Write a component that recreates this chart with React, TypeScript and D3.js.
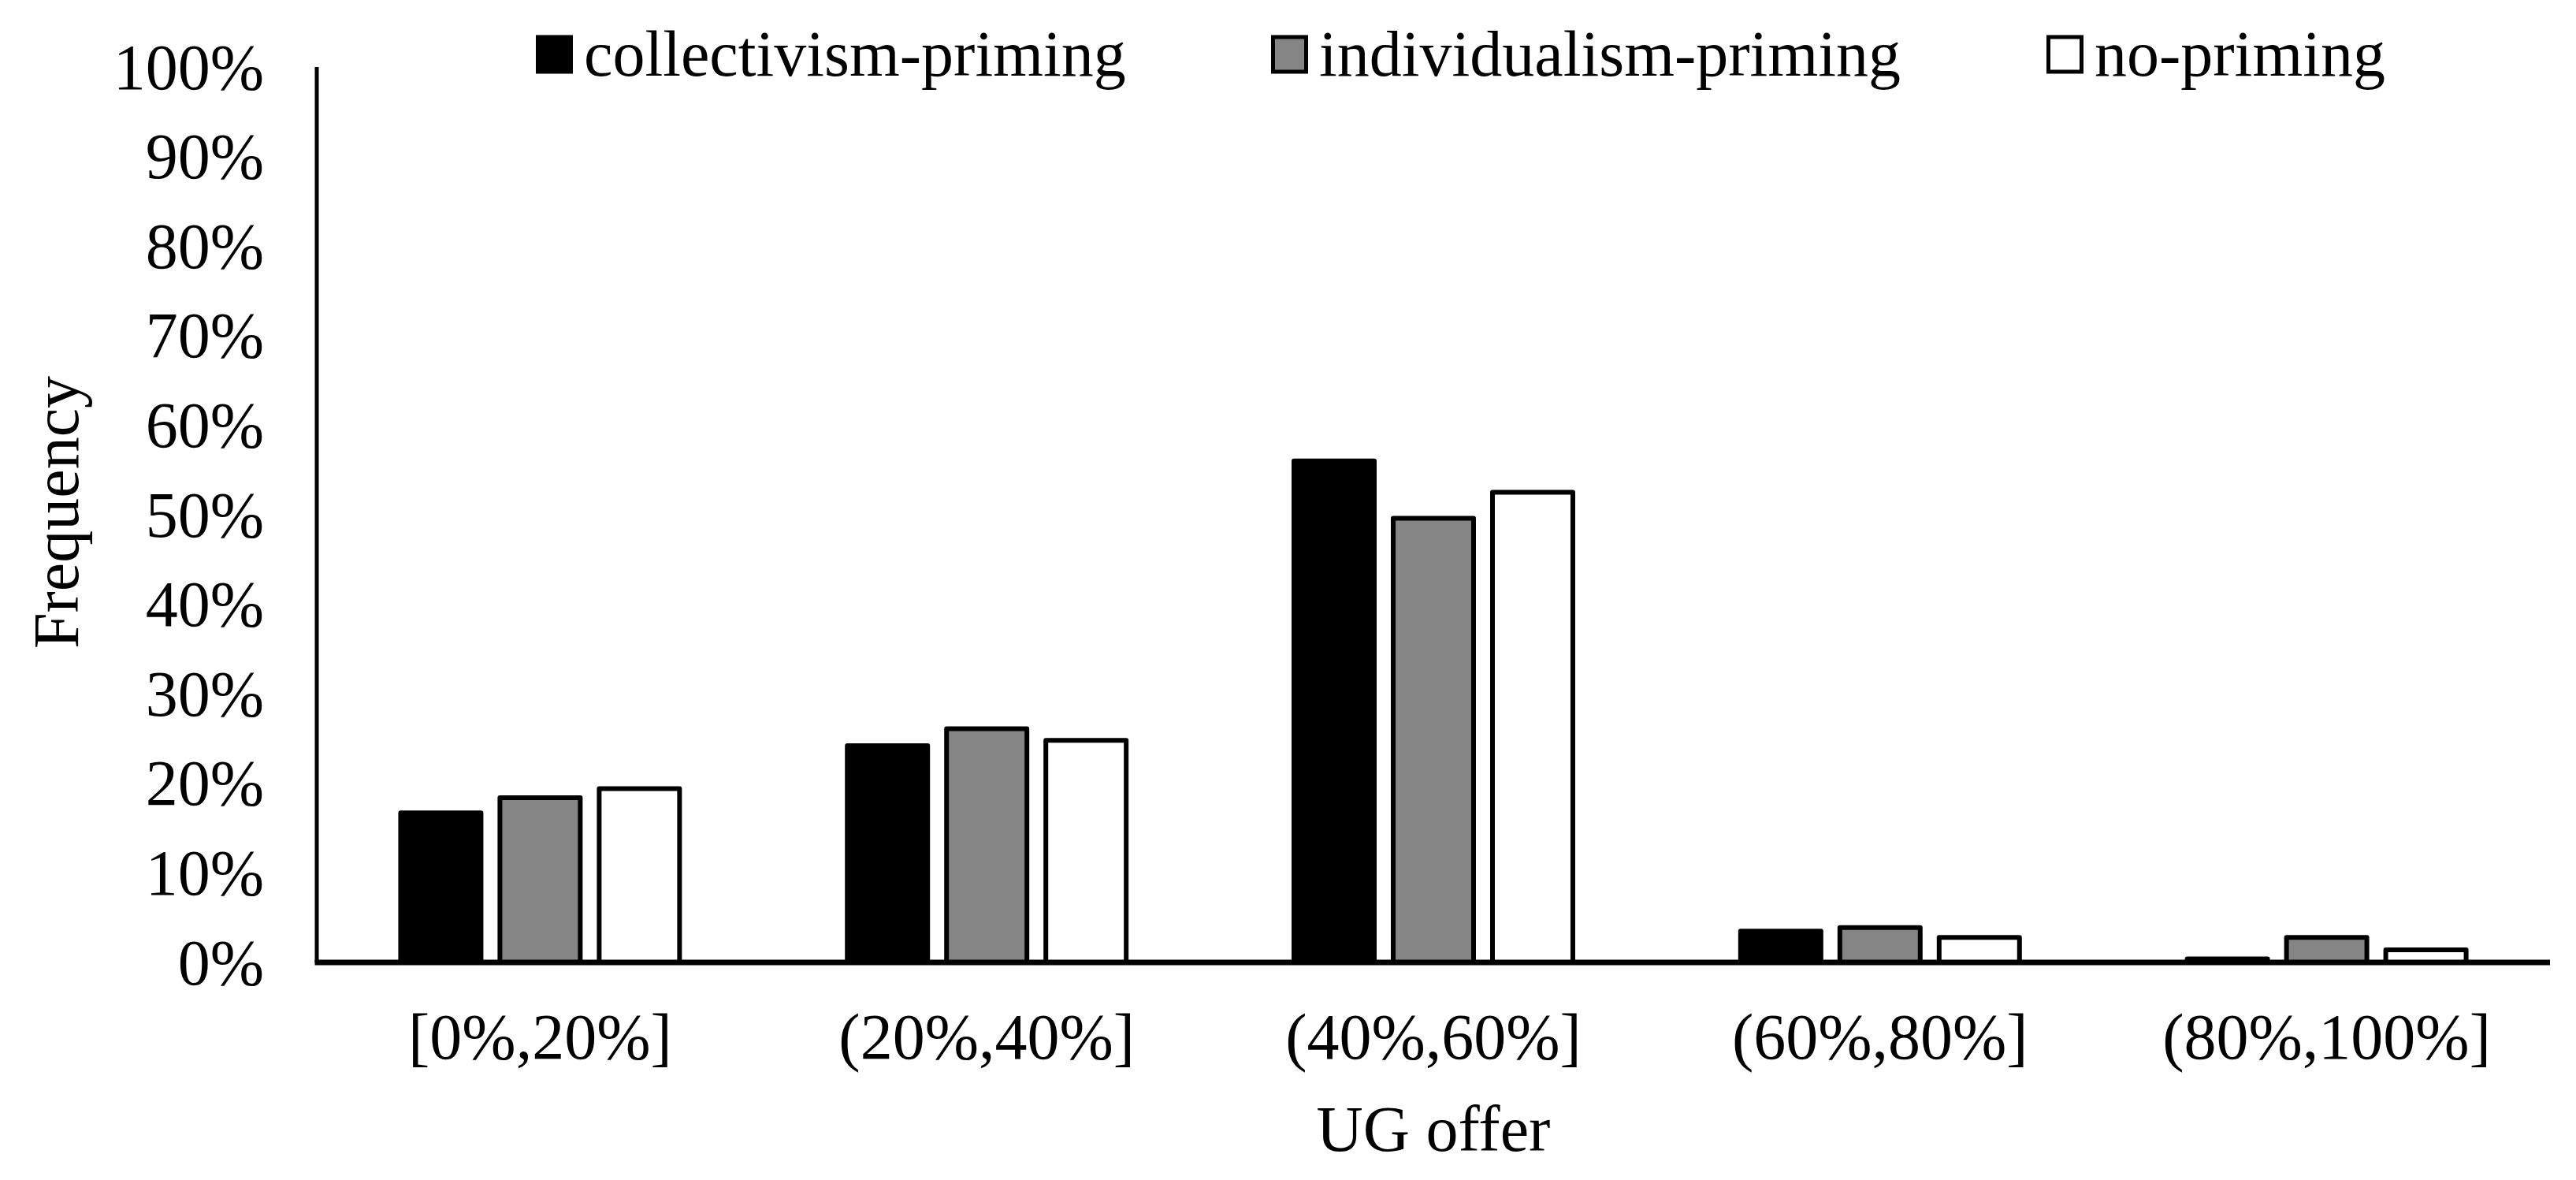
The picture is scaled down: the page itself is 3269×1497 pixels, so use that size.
import React from "react";
import * as d3 from "d3";

const categories = ["[0%,20%]", "(20%,40%]", "(40%,60%]", "(60%,80%]", "(80%,100%]"];
const seriesNames = ["collectivism-priming", "individualism-priming", "no-priming"];
const collectivism = [16.7, 24.2, 56.0, 3.5, 0.4];
const individualism = [18.4, 26.1, 49.6, 3.9, 2.8];
const noPriming = [19.4, 24.8, 52.5, 2.8, 1.4];
const yTicks = [0, 10, 20, 30, 40, 50, 60, 70, 80, 90, 100];
const xTitle = "UG offer";
const yTitle = "Frequency";

const seriesValues = [collectivism, individualism, noPriming];
const fills = ["#000000", "#858585", "#ffffff"];

const W = 3269;
const H = 1497;
const left = 402;
const right = 3236;
const top = 85;
const bottom = 1221;
const FONT = "'Liberation Serif', 'Times New Roman', serif";
const FS = 82;
const SW = 6;

const legendX = [680, 1613, 2597];

export default function App() {
  const x = d3.scaleBand<string>().domain(categories).range([left, right]).paddingInner(0).paddingOuter(0);
  const xs = d3
    .scaleBand<string>()
    .domain(seriesNames)
    .range([0, x.bandwidth()])
    .paddingInner(0.143)
    .paddingOuter(0.821);
  const y = d3.scaleLinear().domain([0, 100]).range([bottom, top]);

  return (
    <svg
      width={W}
      height={H}
      style={{ position: "absolute", left: 0, top: 0, background: "#fff" }}
      fontFamily={FONT}
    >
      <rect x={0} y={0} width={W} height={H} fill="#fff" />
      {/* bars */}
      {seriesNames.map((s, si) =>
        categories.map((c, ci) => {
          const v = seriesValues[si][ci];
          const x0 = (x(c) ?? 0) + (xs(s) ?? 0) + SW / 2;
          const w = xs.bandwidth() - SW;
          const yt = y(v);
          return (
            <rect
              key={s + c}
              x={x0}
              y={yt}
              width={w}
              height={Math.max(0, bottom - yt)}
              fill={fills[si]}
              stroke="#000"
              strokeWidth={SW}
              strokeLinejoin="round"
            />
          );
        })
      )}
      {/* axes */}
      <line x1={left} x2={left} y1={y(100)} y2={bottom} stroke="#000" strokeWidth={5} />
      <line x1={left - 2.5} x2={right} y1={bottom} y2={bottom} stroke="#000" strokeWidth={7} />
      {/* y tick labels */}
      {yTicks.map((t) => (
        <text
          key={t}
          x={335}
          y={y(t)}
          textAnchor="end"
          dominantBaseline="central"
          fontSize={FS}
          fill="#000"
        >
          {t + "%"}
        </text>
      ))}
      {/* x category labels */}
      {categories.map((c) => (
        <text
          key={c}
          x={(x(c) ?? 0) + x.bandwidth() / 2}
          y={1343}
          textAnchor="middle"
          fontSize={FS}
          fill="#000"
        >
          {c}
        </text>
      ))}
      {/* axis titles */}
      <text x={(left + right) / 2} y={1460} textAnchor="middle" fontSize={FS} fill="#000">
        {xTitle}
      </text>
      <text
        transform={`translate(99, ${(top + bottom) / 2 - 3}) rotate(-90)`}
        textAnchor="middle"
        fontSize={FS}
        fill="#000"
      >
        {yTitle}
      </text>
      {/* legend */}
      {seriesNames.map((s, si) => (
        <g key={s}>
          <rect
            x={legendX[si] + 2.5}
            y={47}
            width={42}
            height={44}
            fill={fills[si]}
            stroke="#000"
            strokeWidth={5}
          />
          <text x={legendX[si] + 61} y={96} fontSize={FS} fill="#000">
            {s}
          </text>
        </g>
      ))}
    </svg>
  );
}
